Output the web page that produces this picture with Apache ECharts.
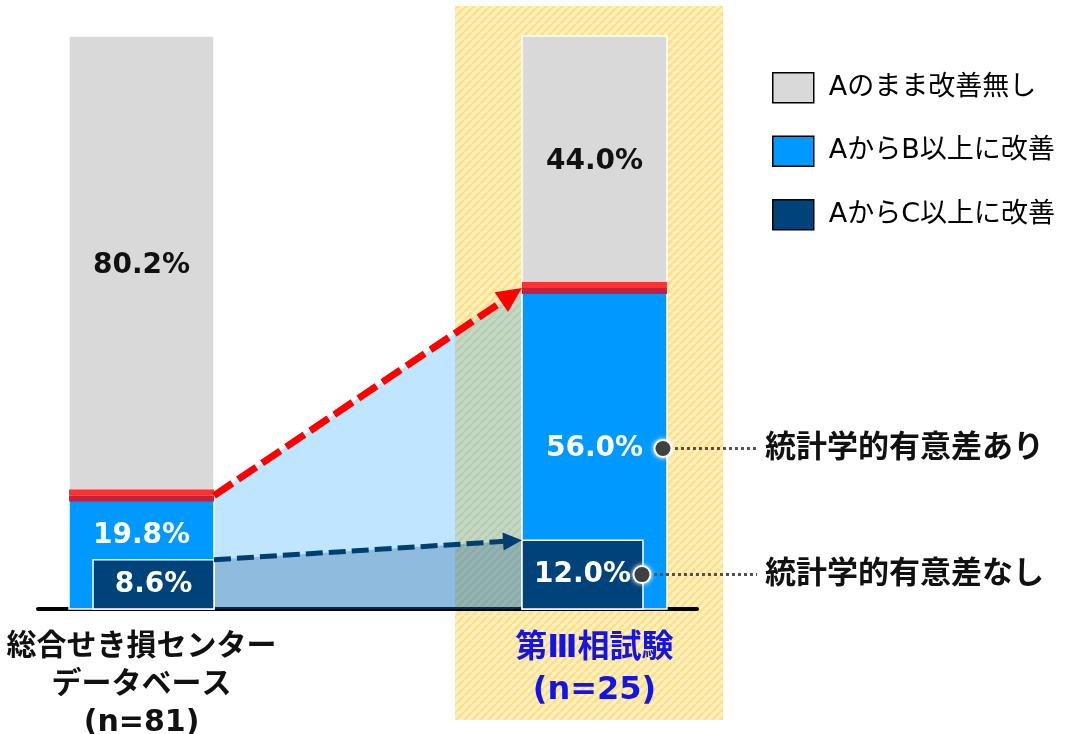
<!DOCTYPE html>
<html><head><meta charset="utf-8">
<script src="https://cdn.jsdelivr.net/npm/echarts@6/dist/echarts.min.js"></script>
<style>html,body{margin:0;padding:0;background:#fff}#c{width:1071px;height:734px}</style>
</head><body><div id="c"></div>
<script>
// ---- data ----
const categories = ['総合せき損センター\nデータベース\n(n=81)', '第Ⅲ相試験\n(n=25)'];
const seriesNames = ['Aのまま改善無し', 'AからB以上に改善', 'AからC以上に改善'];
const noImprove = [80.2, 44.0];
const improveB = [19.8, 56.0];
const improveC = [8.6, 12.0];
const annotations = ['統計学的有意差あり', '統計学的有意差なし'];

// ---- style ----
const FONT = '"DejaVu Sans","Noto Sans CJK JP",sans-serif';
const C_GRAY = '#D9D9D9', C_BLUE = '#0099FF', C_DARK = '#00437A';
const HW = 0.16;            // half bar width (x units)
const DARK_RATIO = 121 / 145;

function makePattern() {
  const s = 8, cv = document.createElement('canvas');
  cv.width = s; cv.height = s;
  const g = cv.getContext('2d');
  g.fillStyle = '#FFF1C2'; g.fillRect(0, 0, s, s);
  g.strokeStyle = '#FFE08A'; g.lineWidth = 3;
  g.beginPath();
  for (let k = -1; k <= 1; k++) { g.moveTo(k * s, s); g.lineTo(k * s + s, 0); }
  g.stroke();
  return cv;
}
const pattern = { image: makePattern(), repeat: 'repeat' };

function fmt(v) { return v.toFixed(1) + '%'; }

function barRect(api, x, y0, y1, align) {
  const l = api.coord([x - HW, y1]), r = api.coord([x + HW, y0]);
  let x0 = l[0], w = r[0] - l[0];
  if (align) {
    const dw = w * DARK_RATIO;
    if (align === 'right') x0 = r[0] - dw;
    w = dw;
  }
  return { x: x0, y: l[1], width: w, height: r[1] - l[1] };
}

function arrow(p0, p1, color, w, dash, hl, hw) {
  const dx = p1[0] - p0[0], dy = p1[1] - p0[1], L = Math.hypot(dx, dy);
  const ux = dx / L, uy = dy / L, nx = -uy, ny = ux;
  const bx = p1[0] - ux * hl, by = p1[1] - uy * hl;
  return [
    { type: 'line', shape: { x1: p0[0], y1: p0[1], x2: bx + ux * 2, y2: by + uy * 2 },
      style: { stroke: color, lineWidth: w, lineDash: dash, fill: null } },
    { type: 'polygon', shape: { points: [[p1[0], p1[1]], [bx + nx * hw / 2, by + ny * hw / 2], [bx - nx * hw / 2, by - ny * hw / 2]] },
      style: { fill: color } }
  ];
}

const chart = echarts.init(document.getElementById('c'), null, { renderer: 'canvas' });

const option = {
  animation: false,
  backgroundColor: '#fff',
  grid: { left: 38, right: 374, top: 36, bottom: 125, containLabel: false, outerBoundsMode: 'none' },
  legend: {
    orient: 'vertical', left: 772, top: 72, padding: 0,
    itemWidth: 41, itemHeight: 30, itemGap: 32, icon: 'rect',
    itemStyle: { borderColor: '#000', borderWidth: 1.5 },
    textStyle: { fontSize: 27, color: '#000', fontFamily: FONT, padding: [0, 0, 0, 10] },
    data: seriesNames
  },
  xAxis: {
    type: 'value', min: -0.2285, max: 1.2263,
    splitLine: { show: false },
    axisTick: { show: false },
    axisLine: { show: true, onZero: false, lineStyle: { color: '#000', width: 4 } },
    axisLabel: {
      customValues: [0, 1], margin: 19,
      formatter: function (v) {
        const i = Math.round(v), key = i === 0 ? 'a' : 'b';
        return categories[i].split('\n').map(s => '{' + key + '|' + s + '}').join('\n');
      },
      rich: {
        a: { fontSize: 30, fontWeight: 'bold', color: '#111', fontFamily: FONT, lineHeight: 38 },
        b: { fontSize: 32, fontWeight: 'bold', color: '#1414E6', fontFamily: FONT, lineHeight: 42 }
      }
    }
  },
  yAxis: { type: 'value', min: 0, max: 100, show: false },
  series: [
    { // highlight behind trial bar
      type: 'custom', name: 'hl', z: 0, silent: true, data: [[1]],
      renderItem: function (params, api) {
        const b = api.coord([1, 0]), t = api.coord([1, 100]);
        return { type: 'rect', shape: { x: b[0] - 139.5, y: t[1] - 30, width: 268, height: b[1] - t[1] + 141 },
          style: { fill: pattern } };
      }
    },
    { // shaded transition areas
      type: 'custom', name: 'area', z: 1, silent: true, data: [[0]],
      renderItem: function (params, api) {
        const lt = api.coord([HW, improveB[0]]), lb = api.coord([HW, 0]);
        const rt = api.coord([1 - HW, improveB[1]]), rb = api.coord([1 - HW, 0]);
        const ld = api.coord([HW, improveC[0]]), rd = api.coord([1 - HW, improveC[1]]);
        return { type: 'group', children: [
          { type: 'polygon', shape: { points: [lt, rt, rb, lb] }, style: { fill: 'rgba(0,153,255,0.25)' } },
          { type: 'polygon', shape: { points: [ld, rd, rb, lb] }, style: { fill: 'rgba(0,69,124,0.25)' } }
        ] };
      }
    },
    {
      type: 'custom', name: seriesNames[0], z: 2, itemStyle: { color: C_GRAY },
      data: noImprove.map((v, i) => [i, improveB[i], improveB[i] + v, v]),
      renderItem: function (params, api) {
        const x = api.value(0), y0 = api.value(1), y1 = api.value(2), v = api.value(3);
        const r = barRect(api, x, y0, y1);
        const c = api.coord([x, (y0 + y1) / 2]);
        return { type: 'group', children: [
          { type: 'rect', shape: r, style: { fill: C_GRAY, stroke: '#fff', lineWidth: 1.5 } },
          { type: 'text', x: c[0], y: c[1], style: { text: fmt(v), fill: '#111', align: 'center', verticalAlign: 'middle',
            fontSize: 28, fontWeight: 'bold', fontFamily: FONT } }
        ] };
      }
    },
    {
      type: 'custom', name: seriesNames[1], z: 2, itemStyle: { color: C_BLUE },
      data: improveB.map((v, i) => [i, 0, v]),
      renderItem: function (params, api) {
        const x = api.value(0), y0 = api.value(1), y1 = api.value(2);
        const r = barRect(api, x, y0, y1);
        let c;
        if (params.dataIndex === 0) {
          const d = api.coord([x, improveC[0]]);
          c = [r.x + r.width / 2, d[1] - 24];
        } else {
          c = api.coord([x, y1 / 2]);
        }
        return { type: 'group', children: [
          { type: 'rect', shape: r, style: { fill: C_BLUE, stroke: '#fff', lineWidth: 1.5 } },
          { type: 'text', x: c[0], y: c[1], style: { text: fmt(y1), fill: '#fff', align: 'center', verticalAlign: 'middle',
            fontSize: 28, fontWeight: 'bold', fontFamily: FONT } }
        ] };
      }
    },
    {
      type: 'custom', name: seriesNames[2], z: 3, itemStyle: { color: C_DARK },
      data: improveC.map((v, i) => [i, 0, v]),
      renderItem: function (params, api) {
        const x = api.value(0), y1 = api.value(2);
        const r = barRect(api, x, 0, y1, params.dataIndex === 0 ? 'right' : 'left');
        const c = [r.x + r.width / 2, api.coord([x, y1 / 2])[1]];
        return { type: 'group', children: [
          { type: 'rect', shape: r, style: { fill: C_DARK, stroke: '#fff', lineWidth: 1.5 } },
          { type: 'text', x: c[0], y: c[1], style: { text: fmt(y1), fill: '#fff', align: 'center', verticalAlign: 'middle',
            fontSize: 28, fontWeight: 'bold', fontFamily: FONT } }
        ] };
      }
    },
    { // red boundary bands
      type: 'custom', name: 'band', z: 4, silent: true,
      data: improveB.map((v, i) => [i, v]),
      renderItem: function (params, api) {
        const x = api.value(0), v = api.value(1);
        const l = api.coord([x - HW, v]), r = api.coord([x + HW, v]);
        return { type: 'group', children: [
          { type: 'rect', shape: { x: l[0], y: l[1] - 6, width: r[0] - l[0], height: 6 }, style: { fill: '#FF3030' } },
          { type: 'rect', shape: { x: l[0], y: l[1], width: r[0] - l[0], height: 6 }, style: { fill: '#C81F3A' } }
        ] };
      }
    },
    { // arrows
      type: 'custom', name: 'arrows', z: 5, silent: true, data: [[0]],
      renderItem: function (params, api) {
        const a = arrow(api.coord([HW, improveB[0]]), api.coord([1 - HW, improveB[1]]), '#FF0000', 7, [22, 7], 25, 24);
        const b = arrow(api.coord([HW, improveC[0]]), api.coord([1 - HW, improveC[1]]), '#003F72', 5, [17, 6], 19, 18);
        return { type: 'group', children: a.concat(b) };
      }
    },
    { // significance annotations
      type: 'custom', name: 'ann', z: 6, silent: true, data: [[0]],
      renderItem: function (params, api) {
        const rightEdge = api.coord([1 + HW, 0])[0];
        const leftEdge = api.coord([1 - HW, 0])[0];
        const darkRight = leftEdge + (rightEdge - leftEdge) * DARK_RATIO;
        const pts = [
          [rightEdge - 4, api.coord([1, improveB[1] / 2])[1]],
          [darkRight - 1, api.coord([1, improveC[1] / 2])[1]]
        ];
        const textX = rightEdge + 98;
        const ch = [];
        pts.forEach((p, i) => {
          ch.push({ type: 'line', shape: { x1: p[0], y1: p[1], x2: textX - 8, y2: p[1] },
            style: { stroke: '#505050', lineWidth: 3, lineDash: [3, 3] } });
          ch.push({ type: 'circle', shape: { cx: p[0], cy: p[1], r: 9.5 }, style: { fill: '#fff', shadowBlur: 5, shadowColor: 'rgba(255,255,255,1)' } });
          ch.push({ type: 'circle', shape: { cx: p[0], cy: p[1], r: 7.5 }, style: { fill: '#404040' } });
          ch.push({ type: 'text', x: textX, y: p[1], style: { text: annotations[i], fill: '#111', align: 'left', verticalAlign: 'middle',
            fontSize: 31, fontWeight: 'bold', fontFamily: FONT } });
        });
        return { type: 'group', children: ch };
      }
    }
  ]
};
chart.setOption(option);
</script>
</body></html>
